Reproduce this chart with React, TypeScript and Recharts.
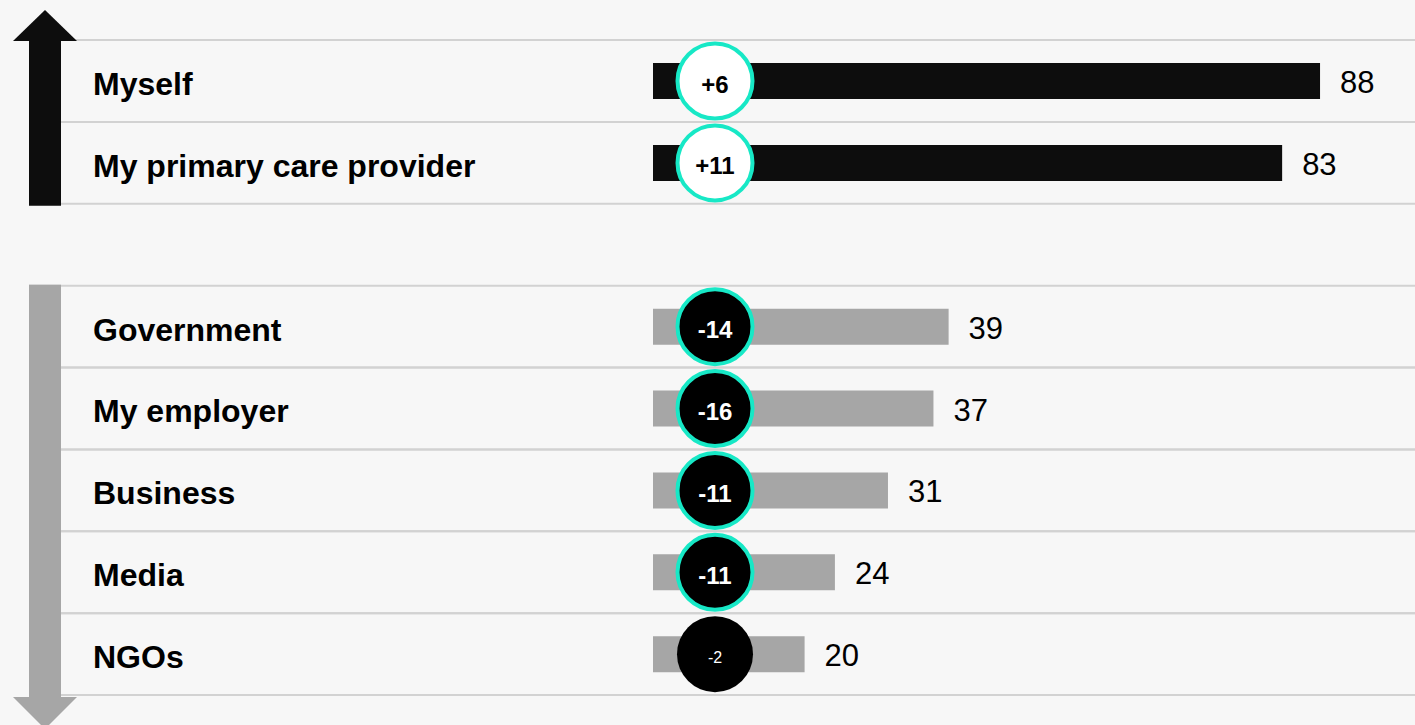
import React from "react";
import { BarChart, Bar, XAxis, YAxis, Cell, LabelList } from "recharts";

// groups: trust went up (top) / trust went down (bottom)
const upNames = ["Myself", "My primary care provider"];
const upValues = [88, 83];
const upChange = [6, 11];

const downNames = ["Government", "My employer", "Business", "Media", "NGOs"];
const downValues = [39, 37, 31, 24, 20];
const downChange = [-14, -16, -11, -11, -2];
const downSignificant = [true, true, true, true, false];

const W = 1415;
const H = 725;
const MARGIN = { top: 40, right: 4, bottom: 30, left: 0 };
const AXIS_W = 653;
const FONT = '"Liberation Sans", Arial, Helvetica, sans-serif';

const BLACK = "#0d0d0d";
const GREY = "#a6a6a6";
const TEAL = "#17e8c6";
const LINE = "#d2d2d2";

type Row = {
  name: string;
  value: number | null;
  change: number | null;
  group: "up" | "down" | "gap";
  significant: boolean;
};

const rows: Row[] = [
  ...upNames.map((name, i) => ({
    name,
    value: upValues[i],
    change: upChange[i],
    group: "up" as const,
    significant: true,
  })),
  { name: " ", value: null, change: null, group: "gap", significant: false },
  ...downNames.map((name, i) => ({
    name,
    value: downValues[i],
    change: downChange[i],
    group: "down" as const,
    significant: downSignificant[i],
  })),
];

const BAND = (H - MARGIN.top - MARGIN.bottom) / rows.length;

function UpArrow({ top, bottom }: { top: number; bottom: number }) {
  const head = `M13,${top + 1} L45,${top - 30} L77,${top + 1} Z`;
  return (
    <g>
      <rect x={29} y={top} width={32} height={bottom - top + 2} fill={BLACK} />
      <path d={head} fill={BLACK} />
    </g>
  );
}

function DownArrow({ top, bottom }: { top: number; bottom: number }) {
  const head = `M13,${bottom + 2} L45,${bottom + 34} L77,${bottom + 2} Z`;
  return (
    <g>
      <rect x={29} y={top - 1} width={32} height={bottom - top + 3} fill={GREY} />
      <path d={head} fill={GREY} />
    </g>
  );
}

function Tick(props: any) {
  const { y, payload, index } = props;
  const row = rows[index];
  if (!row || row.group === "gap") return null;
  const top = y - BAND / 2;
  const bottom = y + BAND / 2;
  const first = index === 0 || rows[index - 1].group !== row.group;
  const groupLen = row.group === "up" ? upNames.length : downNames.length;
  return (
    <g>
      <line x1={61} x2={W} y1={top} y2={top} stroke={LINE} strokeWidth={2} />
      <line x1={61} x2={W} y1={bottom} y2={bottom} stroke={LINE} strokeWidth={2} />
      {first && row.group === "up" && <UpArrow top={top} bottom={top + groupLen * BAND} />}
      {first && row.group === "down" && <DownArrow top={top} bottom={top + groupLen * BAND} />}
      <text
        x={93}
        y={y + 14}
        fontFamily={FONT}
        fontSize={32}
        fontWeight="bold"
        fill="#000"
      >
        {payload.value}
      </text>
    </g>
  );
}

function ChangeBubble(props: any) {
  const { x, y, height, value } = props;
  const row = rows.find((r) => r.name === value);
  if (!row || row.change == null) return null;
  const cx = x + 62;
  const cy = y + height / 2;
  const positive = row.change > 0;
  const label = positive ? `+${row.change}` : `${row.change}`;
  if (!row.significant) {
    return (
      <g>
        <circle cx={cx} cy={cy} r={38} fill="#000" />
        <text
          x={cx}
          y={cy}
          dy={3}
          textAnchor="middle"
          dominantBaseline="central"
          fontFamily={FONT}
          fontSize={16}
          fill="#fff"
        >
          {label}
        </text>
      </g>
    );
  }
  return (
    <g>
      <circle
        cx={cx}
        cy={cy}
        r={37.5}
        fill={positive ? "#fff" : "#000"}
        stroke={TEAL}
        strokeWidth={4}
      />
      <text
        x={cx}
        y={cy}
        dy={3}
        textAnchor="middle"
        dominantBaseline="central"
        fontFamily={FONT}
        fontSize={24}
        fontWeight="bold"
        fill={positive ? "#000" : "#fff"}
      >
        {label}
      </text>
    </g>
  );
}

function ValueLabel(props: any) {
  const { x, y, width, height, value } = props;
  if (value == null) return null;
  return (
    <text
      x={x + width + 20}
      y={y + height / 2 + 12}
      fontFamily={FONT}
      fontSize={31}
      fill="#000"
    >
      {value}
    </text>
  );
}

export default function App() {
  return (
    <div
      style={{
        position: "absolute",
        left: 0,
        top: 0,
        width: W,
        height: H,
        background: "#f7f7f7",
        overflow: "hidden",
      }}
    >
      <BarChart width={W} height={H} data={rows} layout="vertical" margin={MARGIN}>
        <XAxis type="number" domain={[0, 100]} hide />
        <YAxis
          type="category"
          dataKey="name"
          width={AXIS_W}
          axisLine={false}
          tickLine={false}
          interval={0}
          tick={<Tick />}
        />
        <Bar dataKey="value" barSize={36} isAnimationActive={false}>
          {rows.map((r, i) => (
            <Cell key={i} fill={r.group === "up" ? BLACK : GREY} />
          ))}
          <LabelList dataKey="value" content={<ValueLabel />} />
          <LabelList dataKey={(d: Row) => d.name} content={<ChangeBubble />} />
        </Bar>
      </BarChart>
    </div>
  );
}
